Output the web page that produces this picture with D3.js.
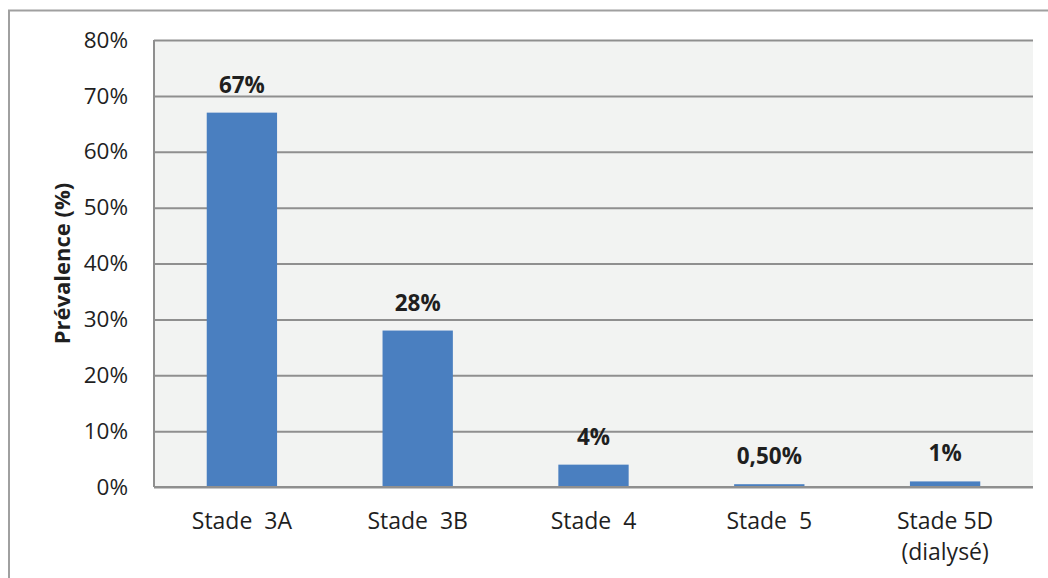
<!DOCTYPE html>
<html>
<head>
<meta charset="utf-8">
<script src="https://cdn.jsdelivr.net/npm/d3@7"></script>
<style>
  html, body { margin: 0; padding: 0; background: #fff; }
  svg text { font-family: "Open Sans", "Noto Sans", sans-serif; fill: #1f1f1f; }
</style>
</head>
<body>
<svg id="chart" width="1048" height="578"></svg>
<script>
// ------------------ DATA ------------------
let categories = ["Stade  3A", "Stade  3B", "Stade  4", "Stade  5", "Stade 5D\n(dialysé)"];
let values = [67, 28, 4, 0.5, 1];
let valueLabels = ["67%", "28%", "4%", "0,50%", "1%"];
let yTicks = [0, 10, 20, 30, 40, 50, 60, 70, 80];
let yTitle = "Prévalence (%)";

// ------------------ LAYOUT ------------------
let svg = d3.select("#chart");
let plot = { left: 154, right: 1033, top: 40, bottom: 487 };
let barColor = "#4a7fc0";
let gridColor = "#8f8f8f";

// outer frame
svg.append("path")
    .attr("d", "M9,578 V10.5 H1048")
    .attr("fill", "none")
    .attr("stroke", "#a0a0a0")
    .attr("stroke-width", 2);

let x = d3.scaleBand()
    .domain(categories)
    .range([plot.left, plot.right])
    .paddingInner(0.6)
    .paddingOuter(0.3);

let y = d3.scaleLinear()
    .domain([0, 80])
    .range([plot.bottom, plot.top]);

// plot background
svg.append("rect")
    .attr("x", plot.left)
    .attr("y", plot.top)
    .attr("width", plot.right - plot.left)
    .attr("height", plot.bottom - plot.top)
    .attr("fill", "#f2f3f2");

// gridlines + tick labels
let yAxis = d3.axisLeft(y)
    .tickValues(yTicks)
    .tickSize(-(plot.right - plot.left))
    .tickPadding(26)
    .tickFormat((d) => d + "%");

let yg = svg.append("g")
    .attr("transform", "translate(" + plot.left + ",0)")
    .call(yAxis);

yg.select(".domain").remove();
yg.selectAll(".tick line")
    .attr("stroke", gridColor)
    .attr("stroke-width", 2);
yg.selectAll(".tick text")
    .attr("font-size", 22.5)
    .attr("fill", "#1f1f1f");

// left axis line
svg.append("line")
    .attr("x1", plot.left).attr("x2", plot.left)
    .attr("y1", plot.top).attr("y2", plot.bottom)
    .attr("stroke", gridColor)
    .attr("stroke-width", 2);

// bars
svg.append("g")
    .selectAll("rect")
    .data(values)
    .enter().append("rect")
    .attr("x", (d, i) => x(categories[i]))
    .attr("y", (d) => y(d))
    .attr("width", x.bandwidth())
    .attr("height", (d) => y(0) - y(d))
    .attr("fill", barColor);

// bottom axis line
svg.append("line")
    .attr("x1", plot.left).attr("x2", plot.right)
    .attr("y1", plot.bottom).attr("y2", plot.bottom)
    .attr("stroke", gridColor)
    .attr("stroke-width", 2);

// value labels
svg.append("g")
    .selectAll("text")
    .data(values)
    .enter().append("text")
    .attr("x", (d, i) => x(categories[i]) + x.bandwidth() / 2)
    .attr("y", (d) => y(d) - 20)
    .attr("text-anchor", "middle")
    .attr("font-size", 22.5)
    .attr("font-weight", "bold")
    .text((d, i) => valueLabels[i]);

// category labels (second line as its own text)
let catGroup = svg.append("g");

categories.forEach((d) => {
    let lines = d.split("\n");
    lines.forEach((line, i) => {
        catGroup.append("text")
            .attr("x", x(d) + x.bandwidth() / 2)
            .attr("y", 529 + i * 31)
            .attr("text-anchor", "middle")
            .attr("font-size", 23)
            .style("white-space", "pre")
            .text(line);
    });
});

// y title
svg.append("text")
    .attr("transform", "translate(70," + ((plot.top + plot.bottom) / 2) + ") rotate(-90)")
    .attr("text-anchor", "middle")
    .attr("font-size", 22)
    .attr("font-weight", "bold")
    .text(yTitle);
</script>
</body>
</html>
